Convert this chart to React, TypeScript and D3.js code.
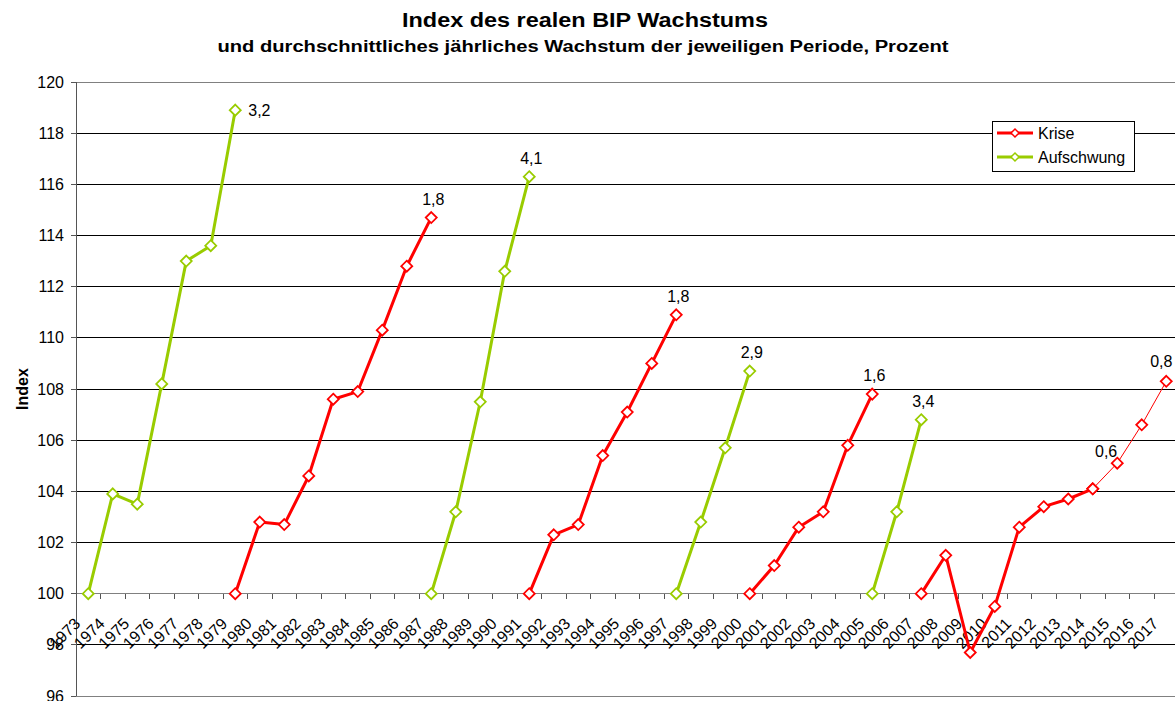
import React from "react";
import * as d3 from "d3";

// Kategorien (x-Achse)
const years = [
  "1973", "1974", "1975", "1976", "1977", "1978", "1979", "1980", "1981",
  "1982", "1983", "1984", "1985", "1986", "1987", "1988", "1989", "1990",
  "1991", "1992", "1993", "1994", "1995", "1996", "1997", "1998", "1999",
  "2000", "2001", "2002", "2003", "2004", "2005", "2006", "2007", "2008",
  "2009", "2010", "2011", "2012", "2013", "2014", "2015", "2016", "2017",
];
const yTicks = [96, 98, 100, 102, 104, 106, 108, 110, 112, 114, 116, 118, 120];

// Index je Periode, Start = 100
const aufschwung1 = [100, 103.9, 103.5, 108.2, 113.0, 113.6, 118.9];
const krise1 = [100, 102.8, 102.7, 104.6, 107.6, 107.9, 110.3, 112.8, 114.7];
const aufschwung2 = [100, 103.2, 107.5, 112.6, 116.3];
const krise2 = [100, 102.3, 102.7, 105.4, 107.1, 109.0, 110.9];
const aufschwung3 = [100, 102.8, 105.7, 108.7];
const krise3 = [100, 101.1, 102.6, 103.2, 105.8, 107.8];
const aufschwung4 = [100, 103.2, 106.8];
const krise4 = [100, 101.5, 97.7, 99.5, 102.6, 103.4, 103.7, 104.1];
const prognose = [104.1, 105.1, 106.6, 108.3];

const RED = "#ff0000";
const GREEN = "#99cc00";

const segments = [
  { start: 0, values: aufschwung1, color: GREEN, thin: false },
  { start: 6, values: krise1, color: RED, thin: false },
  { start: 14, values: aufschwung2, color: GREEN, thin: false },
  { start: 18, values: krise2, color: RED, thin: false },
  { start: 24, values: aufschwung3, color: GREEN, thin: false },
  { start: 27, values: krise3, color: RED, thin: false },
  { start: 32, values: aufschwung4, color: GREEN, thin: false },
  { start: 34, values: krise4, color: RED, thin: false },
  { start: 41, values: prognose, color: RED, thin: true },
];

// durchschnittliches jährliches Wachstum
const labels = [
  { seg: 0, idx: 6, text: "3,2", pos: "right" },
  { seg: 1, idx: 8, text: "1,8", pos: "above" },
  { seg: 2, idx: 4, text: "4,1", pos: "above" },
  { seg: 3, idx: 6, text: "1,8", pos: "above" },
  { seg: 4, idx: 3, text: "2,9", pos: "above" },
  { seg: 5, idx: 5, text: "1,6", pos: "above" },
  { seg: 6, idx: 2, text: "3,4", pos: "above" },
  { seg: 8, idx: 1, text: "0,6", pos: "left" },
  { seg: 8, idx: 3, text: "0,8", pos: "edge" },
];

const font = "'Liberation Sans', Arial, sans-serif";
const W = 1175;
const H = 701;
const left = 76;
const top = 82;
const bottom = 696;

const x = d3
  .scaleBand<string>()
  .domain(years)
  .range([left, left + years.length * 24.5]);
const y = d3.scaleLinear().domain([96, 120]).range([bottom, top]);
const cx = (i: number) => (x(years[i]) as number) + x.bandwidth() / 2;

const diamond = (px: number, py: number, r: number) =>
  `M${px},${py - r}L${px + r},${py}L${px},${py + r}L${px - r},${py}Z`;

export default function App() {
  return (
    <div style={{ position: "absolute", left: 0, top: 0 }}>
      <svg width={W} height={H} style={{ display: "block", fontFamily: font }}>
        <rect width={W} height={H} fill="#fff" />
        <text x={585} y={27} textAnchor="middle" fontSize={20} fontWeight="bold" textLength={366} lengthAdjust="spacingAndGlyphs">
          Index des realen BIP Wachstums
        </text>
        <text x={583} y={52} textAnchor="middle" fontSize={16} fontWeight="bold" textLength={731} lengthAdjust="spacingAndGlyphs">
          und durchschnittliches jährliches Wachstum der jeweiligen Periode, Prozent
        </text>

        {/* Gitternetz */}
        {yTicks.map((t) => (
          <line
            key={t}
            x1={left}
            x2={W}
            y1={y(t)}
            y2={y(t)}
            stroke={t === 96 || t === 120 || t === 100 ? "#808080" : "#000"}
            strokeWidth={1}
            shapeRendering="crispEdges"
          />
        ))}
        {/* y-Achse */}
        <line x1={left} x2={left} y1={top} y2={bottom} stroke="#555" shapeRendering="crispEdges" />
        {yTicks.map((t) => (
          <g key={"yt" + t}>
            <line x1={left - 5} x2={left} y1={y(t)} y2={y(t)} stroke="#555" shapeRendering="crispEdges" />
            <text x={64} y={y(t)} dy="0.35em" textAnchor="end" fontSize={16} fill="#000">
              {t}
            </text>
          </g>
        ))}
        <text
          transform={`translate(28,${(top + bottom) / 2}) rotate(-90)`}
          textAnchor="middle"
          fontSize={16}
          fontWeight="bold"
        >
          Index
        </text>

        {/* x-Achse bei 100 */}
        {years.map((yr, i) => (
          <g key={yr}>
            <line
              x1={x(yr) as number}
              x2={x(yr) as number}
              y1={y(100)}
              y2={y(100) + 5}
              stroke="#555"
              shapeRendering="crispEdges"
            />
            <text
              transform={`translate(${cx(i) - 7},${y(100) + 31}) rotate(-45)`}
              textAnchor="end"
              fontSize={16}
            >
              {yr}
            </text>
          </g>
        ))}

        {/* Linien */}
        {segments.map((s, si) => {
          const pts = s.values.map((v, i) => [cx(s.start + i), y(v)] as [number, number]);
          return (
            <g key={"s" + si}>
              <path
                d={d3.line()(pts) as string}
                fill="none"
                stroke={s.color}
                strokeWidth={s.thin ? 1 : 3}
                strokeLinejoin="round"
              />
              {pts.map(([px, py], i) => (
                <path
                  key={i}
                  d={diamond(px, py, 5.5)}
                  fill="#fff"
                  stroke={s.color}
                  strokeWidth={1.8}
                />
              ))}
            </g>
          );
        })}

        {/* Datenbeschriftungen */}
        {labels.map((l, i) => {
          const s = segments[l.seg];
          const px = cx(s.start + l.idx);
          const py = y(s.values[l.idx]);
          let tx = px + 2;
          let ty = py - 13;
          let anchor: "start" | "middle" | "end" = "middle";
          if (l.pos === "right") {
            tx = px + 13;
            ty = py + 5.5;
            anchor = "start";
          } else if (l.pos === "left") {
            tx = px;
            ty = py - 6;
            anchor = "end";
          } else if (l.pos === "edge") {
            tx = px - 5;
            ty = py - 14;
          }
          return (
            <text key={"l" + i} x={tx} y={ty} textAnchor={anchor} fontSize={16}>
              {l.text}
            </text>
          );
        })}

        {/* Legende */}
        <g>
          <rect x={992.5} y={121.5} width={142} height={50} fill="#fff" stroke="#000" />
          {[
            { name: "Krise", color: RED },
            { name: "Aufschwung", color: GREEN },
          ].map((e, i) => {
            const ly = 133 + i * 24;
            return (
              <g key={e.name}>
                <line x1={997} x2={1033} y1={ly} y2={ly} stroke={e.color} strokeWidth={3} />
                <path d={diamond(1015, ly, 4)} fill="#fff" stroke={e.color} strokeWidth={1.5} />
                <text x={1038} y={ly} dy="0.35em" fontSize={16}>
                  {e.name}
                </text>
              </g>
            );
          })}
        </g>
      </svg>
    </div>
  );
}
